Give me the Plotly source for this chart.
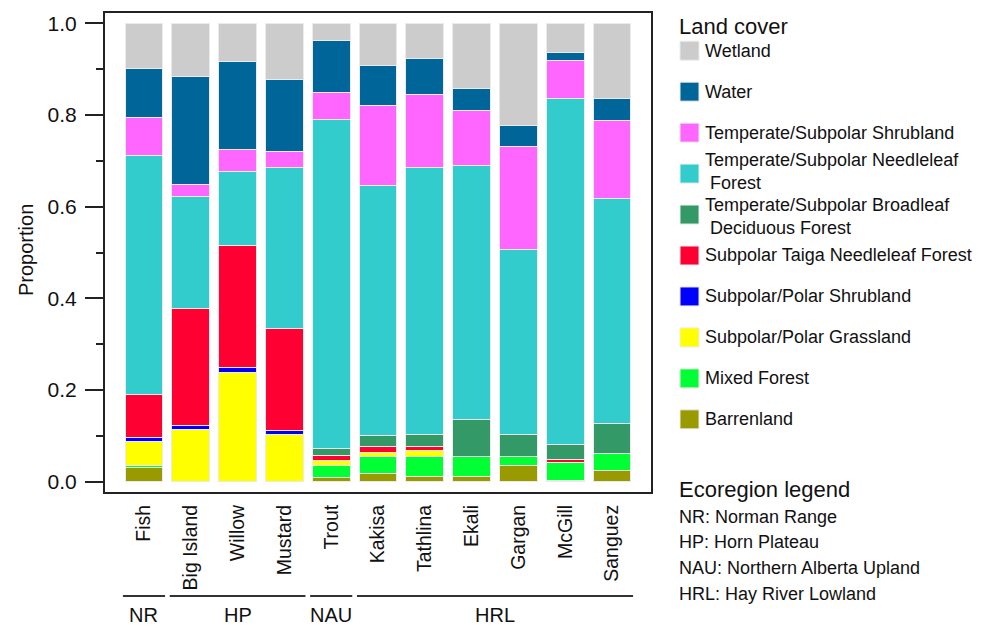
import plotly.graph_objects as go

# Sites (bars) and their ecoregion groups
sites = ["Fish", "Big Island", "Willow", "Mustard", "Trout", "Kakisa",
         "Tathlina", "Ekali", "Gargan", "McGill", "Sanguez"]
ecoregion_codes = ["NR", "HP", "NAU", "HRL"]
ecoregion_names = ["Norman Range", "Horn Plateau", "Northern Alberta Upland", "Hay River Lowland"]
ecoregion_sites = [["Fish"], ["Big Island", "Willow", "Mustard"], ["Trout"],
                   ["Kakisa", "Tathlina", "Ekali", "Gargan", "McGill", "Sanguez"]]

# Land-cover proportions per site (stacked bottom -> top)
barrenland = [0.031, 0.0, 0.0, 0.0, 0.009, 0.017, 0.011, 0.012, 0.035, 0.003, 0.024]
mixed_forest = [0.004, 0.0, 0.0, 0.0, 0.026, 0.038, 0.045, 0.044, 0.021, 0.039, 0.038]
polar_grassland = [0.053, 0.114, 0.239, 0.103, 0.012, 0.009, 0.012, 0.0, 0.0, 0.0, 0.0]
polar_shrubland = [0.008, 0.008, 0.010, 0.009, 0.0, 0.0, 0.0, 0.0, 0.0, 0.0, 0.0]
taiga_needleleaf = [0.094, 0.255, 0.266, 0.223, 0.011, 0.013, 0.009, 0.0, 0.0, 0.007, 0.0]
broadleaf_forest = [0.0, 0.0, 0.0, 0.0, 0.014, 0.023, 0.027, 0.080, 0.047, 0.032, 0.065]
needleleaf_forest = [0.521, 0.246, 0.162, 0.351, 0.718, 0.546, 0.582, 0.553, 0.403, 0.755, 0.491]
shrubland = [0.084, 0.026, 0.048, 0.034, 0.059, 0.175, 0.158, 0.120, 0.226, 0.083, 0.171]
water = [0.107, 0.235, 0.191, 0.158, 0.113, 0.086, 0.080, 0.049, 0.046, 0.018, 0.047]
wetland = [0.098, 0.116, 0.084, 0.122, 0.038, 0.093, 0.076, 0.142, 0.222, 0.063, 0.164]

classes = [
    ("Barrenland", barrenland, "#999900"),
    ("Mixed Forest", mixed_forest, "#00FF33"),
    ("Subpolar/Polar Grassland", polar_grassland, "#FFFF00"),
    ("Subpolar/Polar Shrubland", polar_shrubland, "#0000FF"),
    ("Subpolar Taiga Needleleaf Forest", taiga_needleleaf, "#FF0033"),
    ("Temperate/Subpolar Broadleaf<br> Deciduous Forest", broadleaf_forest, "#339966"),
    ("Temperate/Subpolar Needleleaf<br> Forest", needleleaf_forest, "#33CCCC"),
    ("Temperate/Subpolar Shrubland", shrubland, "#FF66FF"),
    ("Water", water, "#006699"),
    ("Wetland", wetland, "#CCCCCC"),
]

FONT = "Liberation Sans, Arial, sans-serif"
W, H = 987, 628
PL, PR, PT, PB = 105, 651, 13, 492   # plot-area edges in pixels


def px_x(px):
    return (px - PL) / (PR - PL)


def px_y(py):
    return (PB - py) / (PB - PT)


fig = go.Figure()
for name, vals, col in classes:
    fig.add_trace(go.Bar(
        x=sites, y=vals, name=name.replace("<br>", ""),
        marker=dict(color=col, line=dict(color="#EBEBEB", width=1)),
        showlegend=False,
    ))

shapes = []
annotations = []

# Land cover legend (top entry first)
annotations.append(dict(text="Land cover", xref="paper", yref="paper",
                        x=px_x(677), y=px_y(27), xanchor="left", yanchor="middle",
                        showarrow=False, font=dict(size=22, color="#111", family=FONT)))
legend_items = list(reversed(classes))
for i, (name, vals, col) in enumerate(legend_items):
    cy = 50.7 + i * 40.96
    # two-line labels that sit next to each other are spread apart slightly
    nudge = 0.0
    if "<br>" in name:
        if i + 1 < len(legend_items) and "<br>" in legend_items[i + 1][0]:
            nudge = -1.8
        elif i > 0 and "<br>" in legend_items[i - 1][0]:
            nudge = 1.8
    shapes.append(dict(type="rect", xref="paper", yref="paper",
                       x0=px_x(680), x1=px_x(699), y0=px_y(cy + 9.5), y1=px_y(cy - 9.5),
                       fillcolor=col, line=dict(color="#EBEBEB", width=1)))
    annotations.append(dict(text=name, xref="paper", yref="paper",
                            x=px_x(704), y=px_y(cy + nudge), xanchor="left", yanchor="middle",
                            align="left", showarrow=False, borderpad=0,
                            font=dict(size=18, color="#111", family=FONT)))

# Ecoregion legend
annotations.append(dict(text="Ecoregion legend", xref="paper", yref="paper",
                        x=px_x(677), y=px_y(489), xanchor="left", yanchor="middle",
                        showarrow=False, font=dict(size=22, color="#111", family=FONT)))
for i, (code, full) in enumerate(zip(ecoregion_codes, ecoregion_names)):
    annotations.append(dict(text=f"{code}: {full}", xref="paper", yref="paper",
                            x=px_x(677), y=px_y(516.7 + i * 25.7), xanchor="left",
                            yanchor="middle", showarrow=False,
                            font=dict(size=18, color="#111", family=FONT)))

# Ecoregion group brackets beneath the site labels
for code, members in zip(ecoregion_codes, ecoregion_sites):
    i0 = sites.index(members[0])
    i1 = sites.index(members[-1])
    x0, x1 = i0 - 0.45, i1 + 0.45
    shapes.append(dict(type="line", xref="x", yref="paper", x0=x0, x1=x1,
                       y0=px_y(596), y1=px_y(596), line=dict(color="#333", width=2)))
    annotations.append(dict(text=code, xref="x", yref="paper", x=(x0 + x1) / 2,
                            y=px_y(615), xanchor="center", yanchor="middle",
                            showarrow=False, font=dict(size=20, color="#111", family=FONT)))

# Y-axis title
annotations.append(dict(text="Proportion", xref="paper", yref="paper",
                        x=px_x(26), y=px_y(250), xanchor="center", yanchor="middle",
                        textangle=-90, showarrow=False,
                        font=dict(size=20, color="#111", family=FONT)))

fig.update_layout(
    width=W, height=H,
    barmode="stack", bargap=0.19,
    plot_bgcolor="white", paper_bgcolor="white",
    margin=dict(l=PL, r=W - PR, t=PT, b=H - PB, autoexpand=False),
    font=dict(family=FONT, color="#111"),
    shapes=shapes, annotations=annotations,
    xaxis=dict(
        range=[-0.833, 10.833], showline=True, mirror=True, linecolor="#222",
        linewidth=2, ticks="", tickangle=-90, ticklabelstandoff=3,
        tickfont=dict(size=19.5, color="#111", family=FONT), showgrid=False,
    ),
    yaxis=dict(
        range=[-0.0225, 1.0225], showline=True, mirror=True, linecolor="#222",
        linewidth=2, ticks="outside", ticklen=18, tickwidth=1.5, tickcolor="#222",
        tickvals=[0, 0.2, 0.4, 0.6, 0.8, 1.0], tickformat=".1f",
        tickfont=dict(size=21, color="#111", family=FONT), showgrid=False,
        zeroline=False, ticklabelstandoff=4,
        minor=dict(tickvals=[0.1, 0.3, 0.5, 0.7, 0.9], ticks="outside", ticklen=7,
                   tickwidth=1.5, tickcolor="#222", showgrid=False),
    ),
)

fig.write_html("out.html")
